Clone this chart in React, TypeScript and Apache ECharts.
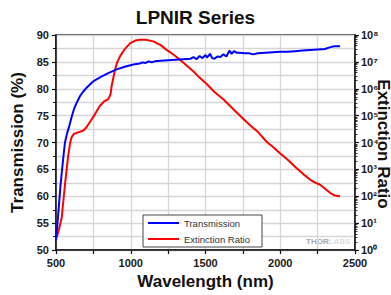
import React, { useEffect, useRef } from "react";
import * as echarts from "echarts";

const transWavelength = [500, 510, 520, 530, 540, 550, 560, 575, 590, 605, 620, 640, 660, 680, 705, 730, 750, 780, 806, 850, 906, 960, 1017, 1060, 1080, 1100, 1120, 1140, 1160, 1200, 1250, 1300, 1350, 1400, 1420, 1440, 1460, 1480, 1500, 1510, 1530, 1545, 1560, 1580, 1600, 1620, 1640, 1660, 1675, 1690, 1710, 1730, 1760, 1790, 1820, 1850, 1900, 1950, 2000, 2050, 2100, 2150, 2200, 2250, 2300, 2330, 2360, 2400];
const transmission = [51.8, 55, 58.5, 62, 64.8, 67.5, 70, 71.8, 73.2, 74.8, 76.2, 77.5, 78.6, 79.4, 80.2, 80.9, 81.4, 81.9, 82.3, 82.9, 83.6, 84.1, 84.5, 84.7, 84.9, 84.8, 85.1, 84.9, 85.1, 85.2, 85.3, 85.4, 85.5, 85.6, 85.9, 85.5, 86.1, 85.7, 86.3, 85.8, 86.5, 85.7, 85.6, 86.0, 85.9, 86.4, 86.0, 87.1, 86.5, 87.0, 86.7, 86.7, 86.6, 86.6, 86.4, 86.6, 86.7, 86.8, 86.9, 86.9, 87.0, 87.1, 87.2, 87.3, 87.4, 87.7, 87.9, 87.9];

const erWavelength = [505, 520, 538, 560, 582, 595, 605, 620, 638, 660, 683, 705, 727, 760, 794, 820, 850, 865, 872, 885, 895, 910, 928, 960, 995, 1030, 1062, 1100, 1151, 1200, 1240, 1290, 1329, 1370, 1418, 1460, 1508, 1560, 1619, 1680, 1731, 1798, 1850, 1909, 1950, 1998, 2050, 2110, 2150, 2199, 2230, 2266, 2300, 2333, 2366, 2400];
const extinctionRatio = [3, 6, 16, 270, 3400, 10000, 16000, 21000, 23000, 25000, 28000, 38000, 58000, 112000, 234000, 330000, 410000, 630000, 1260000, 2800000, 5200000, 10000000, 16000000, 30000000, 49000000, 62000000, 66000000, 66000000, 58000000, 42000000, 28000000, 18000000, 12000000, 7600000, 4500000, 2600000, 1500000, 760000, 410000, 190000, 100000, 44000, 25000, 10700, 7000, 4000, 2300, 1100, 700, 420, 330, 270, 190, 135, 107, 100];

const titleText = "LPNIR Series";
const xName = "Wavelength (nm)";
const yLeftName = "Transmission (%)";
const yRightName = "Extinction Ratio";
const seriesNames = ["Transmission", "Extinction Ratio"];
const superscripts = ["⁰", "¹", "²", "³", "⁴", "⁵", "⁶", "⁷", "⁸", "⁹"];

const FONT = "'Liberation Sans', Arial, sans-serif";

export default function App() {
  const ref = useRef<HTMLDivElement>(null);
  useEffect(() => {
    if (!ref.current) return;
    const chart = echarts.init(ref.current, undefined, { renderer: "svg" });
    const labelStyle = { fontFamily: FONT, fontWeight: "bold", fontSize: 11, color: "#1a1a1a" };
    const nameStyle = { fontFamily: FONT, fontWeight: "bold", fontSize: 17, color: "#111" };
    chart.setOption({
      animation: false,
      backgroundColor: "#fff",
      title: {
        text: titleText,
        left: "center",
        top: 3,
        textStyle: { fontFamily: FONT, fontWeight: "bold", fontSize: 19, color: "#111" },
      },
      grid: {
        left: 56,
        right: 36,
        top: 35,
        bottom: 42,
        show: true,
        borderColor: "#111",
        borderWidth: 1.5,
        containLabel: false,
      },
      legend: {
        orient: "vertical",
        left: 143,
        top: 215,
        backgroundColor: "#fff",
        borderColor: "#444",
        borderWidth: 1,
        borderRadius: 0,
        padding: [3, 12, 3, 5],
        itemGap: 6,
        itemWidth: 31,
        itemHeight: 2,
        icon: "rect",
        textStyle: { fontFamily: FONT, fontSize: 9.5, color: "#333" },
        data: seriesNames,
      },
      xAxis: {
        type: "value",
        min: 500,
        max: 2500,
        interval: 500,
        name: xName,
        nameLocation: "middle",
        nameGap: 20,
        nameTextStyle: nameStyle,
        axisLine: { lineStyle: { color: "#111", width: 1.5 } },
        axisTick: { show: true, length: 4, lineStyle: { color: "#111", width: 1.2 } },
        minorTick: { show: true, splitNumber: 2, length: 4, lineStyle: { color: "#111", width: 1.2 } },
        axisLabel: { ...labelStyle, margin: 7, formatter: (v: number) => String(v) },
        splitLine: { show: true, lineStyle: { color: "#d6d6d6", width: 1.3 } },
        minorSplitLine: { show: true, lineStyle: { color: "#d6d6d6", width: 1.3 } },
      },
      yAxis: [
        {
          type: "value",
          min: 50,
          max: 90,
          interval: 5,
          position: "left",
          name: yLeftName,
          nameLocation: "middle",
          nameGap: 30,
          nameTextStyle: nameStyle,
          axisLine: { show: true, lineStyle: { color: "#111", width: 1.5 } },
          axisTick: { show: true, length: 4, lineStyle: { color: "#111", width: 1.2 } },
          minorTick: { show: true, splitNumber: 2, length: 3, lineStyle: { color: "#111", width: 1 } },
          axisLabel: { ...labelStyle, margin: 7 },
          splitLine: { show: true, lineStyle: { color: "#d6d6d6", width: 1.3 } },
          minorSplitLine: { show: true, lineStyle: { color: "#d6d6d6", width: 1.3 } },
        },
        {
          type: "log",
          logBase: 10,
          min: 1,
          max: 100000000,
          splitNumber: 8,
          position: "right",
          axisLine: { show: true, lineStyle: { color: "#111", width: 1.5 } },
          axisTick: { show: true, length: 4, lineStyle: { color: "#111", width: 1.2 } },
          minorTick: { show: true, splitNumber: 9, length: 2.5, lineStyle: { color: "#111", width: 0.8 } },
          axisLabel: {
            ...labelStyle,
            margin: 6,
            formatter: (v: number) => {
              const e = Math.round(Math.log10(v));
              return "10" + superscripts[e];
            },
          },
          splitLine: { show: false },
        },
      ],
      graphic: [
        {
          type: "text",
          x: 383,
          y: 144,
          rotation: -Math.PI / 2,
          silent: true,
          style: {
            text: yRightName,
            fontFamily: FONT,
            fontWeight: "bold",
            fontSize: 17,
            fill: "#111",
            align: "center",
            verticalAlign: "middle",
          },
        },
        {
          type: "text",
          left: 306,
          top: 237,
          silent: true,
          style: {
            text: "{a|THOR}{b|LABS}",
            rich: {
              a: { fontFamily: FONT, fontWeight: "bold", fontSize: 8, fill: "#a8a8a8" },
              b: { fontFamily: FONT, fontWeight: "bold", fontSize: 8, fill: "#dcdcdc" },
            },
          },
        },
      ],
      series: [
        {
          name: seriesNames[0],
          type: "line",
          yAxisIndex: 0,
          showSymbol: false,
          symbol: "none",
          lineStyle: { color: "#0000ff", width: 2 },
          itemStyle: { color: "#0000ff" },
          data: transWavelength.map((x, i) => [x, transmission[i]]),
          z: 3,
        },
        {
          name: seriesNames[1],
          type: "line",
          yAxisIndex: 1,
          showSymbol: false,
          symbol: "none",
          lineStyle: { color: "#ff0000", width: 2 },
          itemStyle: { color: "#ff0000" },
          data: erWavelength.map((x, i) => [x, extinctionRatio[i]]),
          z: 2,
        },
      ],
    });
    return () => chart.dispose();
  }, []);
  return <div ref={ref} style={{ width: 391, height: 295, position: "absolute", left: 0, top: 0 }} />;
}
